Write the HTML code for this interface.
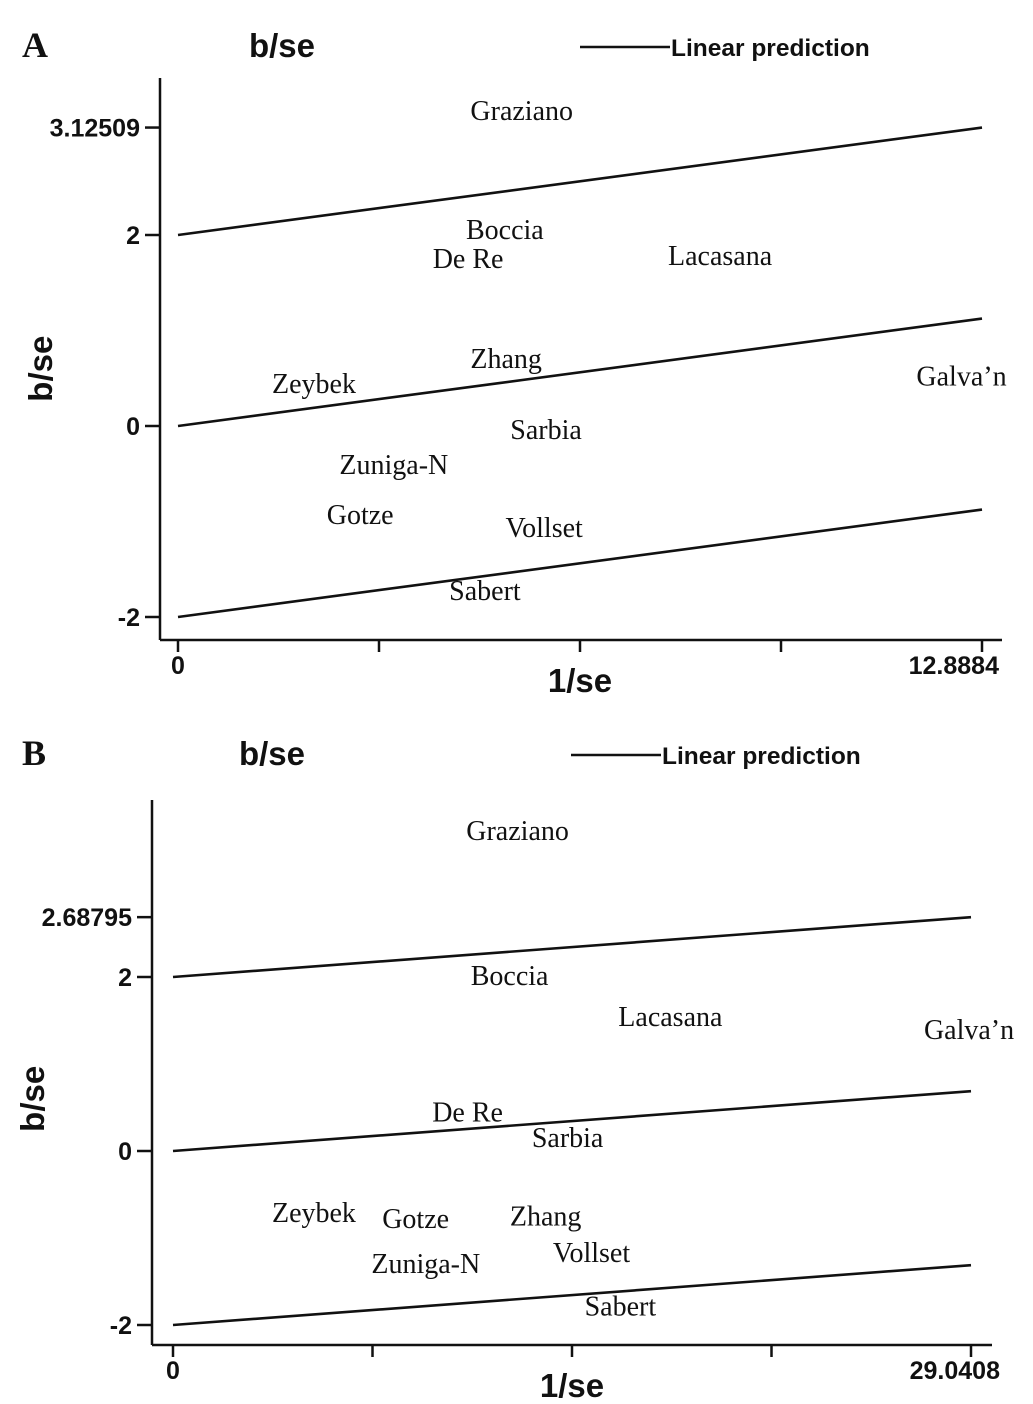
<!DOCTYPE html>
<html><head><meta charset="utf-8"><style>
html,body{margin:0;padding:0;background:#fff;}
svg{display:block;}
.tk{font-family:"Liberation Sans",sans-serif;font-weight:bold;font-size:25px;fill:#111;}
.ax{font-family:"Liberation Sans",sans-serif;font-weight:bold;font-size:33px;fill:#111;}
.lb{font-family:"Liberation Serif",serif;font-size:28px;fill:#111;}
.pl{font-family:"Liberation Serif",serif;font-weight:bold;font-size:36px;fill:#111;}
.lg{font-family:"Liberation Sans",sans-serif;font-weight:bold;font-size:24.5px;fill:#111;}
</style></head><body>
<svg id="chart" width="1033" height="1404" viewBox="0 0 1033 1404" xmlns="http://www.w3.org/2000/svg"></svg>
<script>
// Panel A data
const studiesA = ["Graziano","Boccia","De Re","Lacasana","Zhang","Zeybek","Galva\u2019n","Sarbia","Zuniga-N","Gotze","Vollset","Sabert"];
const precisionA = [5.51,5.24,4.65,8.69,5.26,2.18,12.56,5.90,3.46,2.92,5.87,4.92];
const zA = [3.30,2.05,1.75,1.78,0.70,0.44,0.52,-0.04,-0.41,-0.93,-1.07,-1.73];
const yTicksA = [-2,0,2,3.12509];
const yTickLabelsA = ["-2","0","2","3.12509"];
const xMaxA = 12.8884;
const slopeA = 1.125/12.8884;
// Panel B data
const studiesB = ["Graziano","Boccia","Lacasana","Galva\u2019n","De Re","Sarbia","Zeybek","Gotze","Zhang","Zuniga-N","Vollset","Sabert"];
const precisionB = [12.54,12.25,18.10,28.97,10.72,14.36,5.13,8.83,13.56,9.20,15.23,16.28];
const zB = [3.68,2.01,1.54,1.39,0.44,0.15,-0.71,-0.78,-0.75,-1.30,-1.17,-1.79];
const yTicksB = [-2,0,2,2.68795];
const yTickLabelsB = ["-2","0","2","2.68795"];
const xMaxB = 29.0408;
const slopeB = 0.688/29.0408;
const intercepts = [2,0,-2];

const svg = document.getElementById('chart');
const NS = "http://www.w3.org/2000/svg";
function mk(tag, attrs, parent){const e=document.createElementNS(NS,tag);for(const k in attrs)e.setAttribute(k,attrs[k]);(parent||svg).appendChild(e);return e;}
function txt(s, attrs, parent){const e=mk('text',attrs,parent);e.textContent=s;return e;}

function panel(cfg){
  const g = mk('g',{});
  
  
  const X = u => cfg.x0 + u*(cfg.x1-cfg.x0)/cfg.xMax;
  const Y = v => cfg.y0 - v*cfg.yS;
  let t = txt(cfg.letter,{x:cfg.letterX,y:cfg.base,class:'pl'},g);
  
  
  t = txt('b/se',{x:cfg.titleX,y:cfg.base,class:'ax','text-anchor':'middle'},g);
  
  
  const lgl = mk('line',{x1:cfg.lgX,x2:cfg.lgX+90,y1:cfg.base-10,y2:cfg.base-10,stroke:'#111','stroke-width':2.5},g);
  
  
  t = txt('Linear prediction',{x:cfg.lgX+91,y:cfg.base-1,class:'lg'},g);
  
  
  let a = mk('line',{x1:cfg.ax,x2:cfg.ax,y1:cfg.yTop,y2:cfg.yAx,stroke:'#111','stroke-width':2.5},g);
  
  
  a = mk('line',{x1:cfg.ax,x2:cfg.xEnd,y1:cfg.yAx,y2:cfg.yAx,stroke:'#111','stroke-width':2.5},g);
  
  
  cfg.yTicks.forEach((v,i)=>{
    const tl = mk('line',{x1:cfg.ax-15,x2:cfg.ax,y1:Y(v),y2:Y(v),stroke:'#111','stroke-width':2.5},g);
    
    
    const tt = txt(cfg.yLabels[i],{x:cfg.ax-20,y:Y(v)+9,class:'tk','text-anchor':'end'},g);
    
    
  });
  for(let i=0;i<=4;i++){
    const u = cfg.xMax*i/4;
    const tl = mk('line',{x1:X(u),x2:X(u),y1:cfg.yAx,y2:cfg.yAx+12,stroke:'#111','stroke-width':2.5},g);
    
    
  }
  t = txt('0',{x:X(0),y:cfg.yAx+34,class:'tk','text-anchor':'middle'},g);
  
  
  t = txt(String(cfg.xMax),{x:X(cfg.xMax)+cfg.endOff,y:cfg.yAx+34,class:'tk','text-anchor':'end'},g);
  
  
  t = txt('1/se',{x:X(cfg.xMax/2),y:cfg.yAx+52,class:'ax','text-anchor':'middle'},g);
  
  
  t = txt('b/se',{x:0,y:0,class:'ax','text-anchor':'middle',transform:`translate(${cfg.yTitleX},${Y(cfg.yTitleV)}) rotate(-90)`},g);
  
  
  intercepts.forEach(b=>{
    const l = mk('line',{x1:X(0),y1:Y(b),x2:X(cfg.xMax),y2:Y(b+cfg.slope*cfg.xMax),stroke:'#111','stroke-width':2.6},g);
    
    
  });
  cfg.studies.forEach((s,i)=>{
    const e = txt(s,{x:X(cfg.px[i]),y:Y(cfg.pz[i])+9,class:'lb','text-anchor':'middle'},g);
    
    
  });
}
panel({name:'panel-a',letter:'A',letterX:22,titleX:282,base:57,lgX:580,endOff:17,
  x0:178,x1:982,xMax:xMaxA,y0:426,yS:95.5,ax:160,xEnd:1002,yTop:78,yAx:640,
  yTicks:yTicksA,yLabels:yTickLabelsA,yTitleX:52,yTitleV:0.6,slope:slopeA,
  studies:studiesA,px:precisionA,pz:zA});
panel({name:'panel-b',letter:'B',letterX:22,titleX:272,base:765,lgX:571,endOff:29,
  x0:173,x1:971,xMax:xMaxB,y0:1151,yS:87,ax:152,xEnd:992,yTop:800,yAx:1345,
  yTicks:yTicksB,yLabels:yTickLabelsB,yTitleX:44,yTitleV:0.6,slope:slopeB,
  studies:studiesB,px:precisionB,pz:zB});
</script>
</body></html>
